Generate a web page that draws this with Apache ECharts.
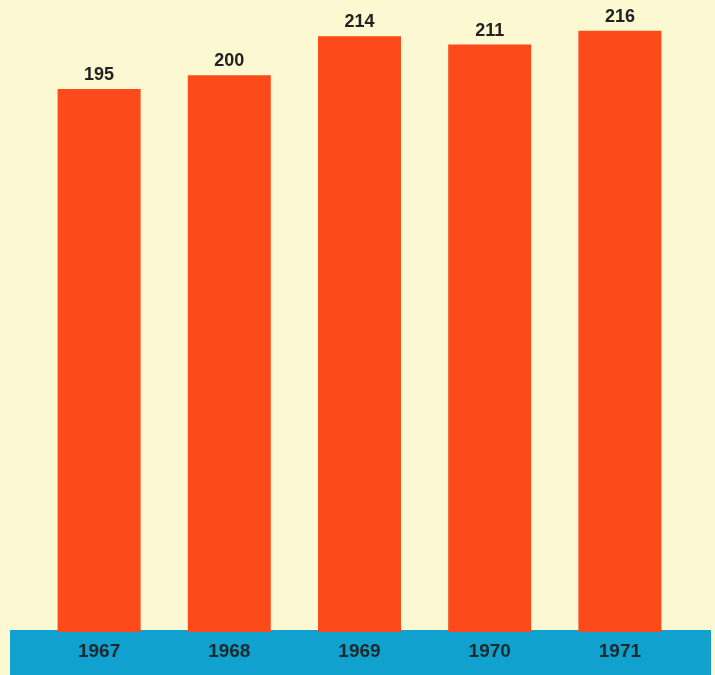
<!DOCTYPE html>
<html>
<head>
<meta charset="utf-8">
<script src="https://cdn.jsdelivr.net/npm/echarts@6/dist/echarts.min.js"></script>
<style>
html,body{margin:0;padding:0;background:#fcf8d2;}
#main{width:715px;height:675px;}
</style>
</head>
<body>
<div id="main"></div>
<script>
const years = ['1967', '1968', '1969', '1970', '1971'];
const values = [195, 200, 214, 211, 216];

const chart = echarts.init(document.getElementById('main'), null, {renderer: 'canvas'});
chart.setOption({
  backgroundColor: '#fcf8d2',
  animation: false,
  graphic: [{
    type: 'rect', left: 10, top: 630, z: 0,
    shape: {width: 701, height: 45},
    style: {fill: '#10a1cf'}
  }],
  grid: {left: 34, right: 30, top: 19.5, bottom: 43},
  xAxis: {
    type: 'category',
    data: years,
    axisLine: {show: false},
    axisTick: {show: false},
    z: 10,
    axisLabel: {
      margin: 10,
      fontFamily: 'Liberation Sans, Arial, sans-serif',
      fontWeight: 'bold',
      fontSize: 19,
      color: '#1c2a2c'
    }
  },
  yAxis: {
    type: 'value', min: 0, max: 220,
    show: false,
    splitLine: {show: false}
  },
  series: [{
    type: 'bar',
    z: 5,
    data: values,
    barWidth: 83,
    itemStyle: {color: '#fc4a1a'},
    label: {
      show: true,
      position: 'top',
      distance: 5,
      fontFamily: 'Liberation Sans, Arial, sans-serif',
      fontWeight: 'bold',
      fontSize: 18,
      color: '#222222'
    }
  }]
});
</script>
</body>
</html>
